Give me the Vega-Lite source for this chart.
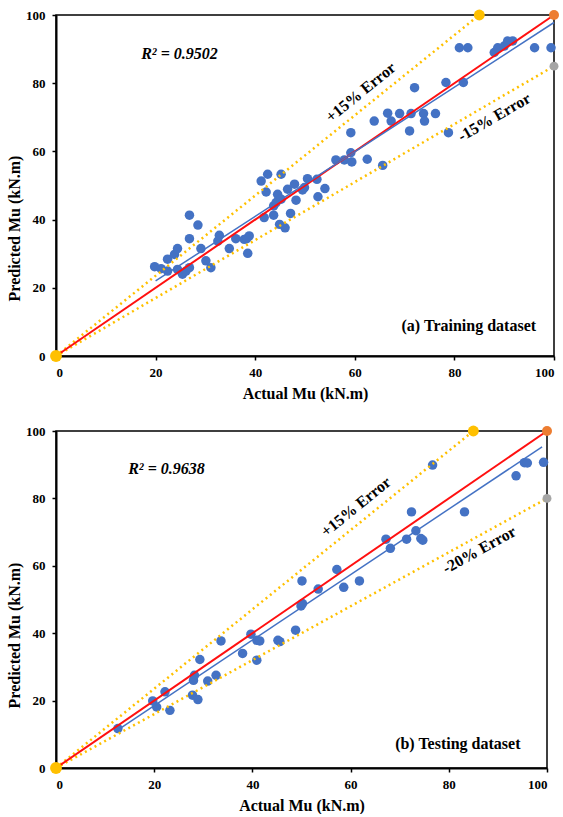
{
  "$schema": "https://vega.github.io/schema/vega-lite/v6.json",
  "background": "white",
  "padding": {"left": 5, "top": 8, "right": 5, "bottom": 0},
  "spacing": 22,
  "config": {
    "font": "'Liberation Serif', 'Times New Roman', 'DejaVu Serif', serif",
    "view": {"stroke": "black", "strokeWidth": 1.5},
    "axis": {
      "grid": false, "domainColor": "black", "domainWidth": 2,
      "tickColor": "black", "tickWidth": 1.5, "tickSize": 4,
      "labelFont": "'Liberation Serif', 'Times New Roman', 'DejaVu Serif', serif", "labelFontWeight": "bold", "labelFontSize": 13, "labelColor": "black",
      "titleFont": "'Liberation Serif', 'Times New Roman', 'DejaVu Serif', serif", "titleFontWeight": "bold", "titleFontSize": 16, "titleColor": "black"
    },
    "axisX": {"labelPadding": 6, "titlePadding": 6},
    "axisY": {"labelPadding": 7, "titlePadding": 3},
    "text": {"font": "'Liberation Serif', 'Times New Roman', 'DejaVu Serif', serif", "fontWeight": "bold", "fontSize": 16, "color": "black"}
  },
  "datasets": {
    "train": [
      {"actual": 19.8, "predicted": 26.2}, {"actual": 21.1, "predicted": 25.6}, {"actual": 22.4, "predicted": 24.9},
      {"actual": 22.4, "predicted": 28.4}, {"actual": 23.8, "predicted": 29.8}, {"actual": 24.4, "predicted": 31.5},
      {"actual": 24.4, "predicted": 25.4}, {"actual": 25.4, "predicted": 24.0}, {"actual": 26.1, "predicted": 24.9},
      {"actual": 26.8, "predicted": 25.9}, {"actual": 26.8, "predicted": 34.4}, {"actual": 26.8, "predicted": 41.3},
      {"actual": 28.5, "predicted": 38.4}, {"actual": 29.1, "predicted": 31.5}, {"actual": 30.1, "predicted": 27.9},
      {"actual": 31.1, "predicted": 25.9}, {"actual": 32.5, "predicted": 33.7}, {"actual": 32.8, "predicted": 35.4},
      {"actual": 34.8, "predicted": 31.5}, {"actual": 36.1, "predicted": 34.4}, {"actual": 37.8, "predicted": 34.2},
      {"actual": 38.3, "predicted": 34.4}, {"actual": 38.5, "predicted": 30.1}, {"actual": 38.8, "predicted": 35.2},
      {"actual": 41.8, "predicted": 40.6}, {"actual": 41.2, "predicted": 51.3}, {"actual": 42.5, "predicted": 53.3},
      {"actual": 42.2, "predicted": 48.1}, {"actual": 43.7, "predicted": 44.0}, {"actual": 43.7, "predicted": 41.3},
      {"actual": 44.2, "predicted": 45.0}, {"actual": 44.5, "predicted": 47.4}, {"actual": 44.9, "predicted": 38.6},
      {"actual": 45.2, "predicted": 53.3}, {"actual": 45.2, "predicted": 46.0}, {"actual": 46.0, "predicted": 37.6},
      {"actual": 46.5, "predicted": 48.9}, {"actual": 47.1, "predicted": 41.8}, {"actual": 47.9, "predicted": 50.4},
      {"actual": 48.2, "predicted": 45.7}, {"actual": 49.5, "predicted": 48.7}, {"actual": 49.9, "predicted": 49.4},
      {"actual": 50.5, "predicted": 52.0}, {"actual": 52.4, "predicted": 51.8}, {"actual": 52.6, "predicted": 46.7},
      {"actual": 54.0, "predicted": 49.1}, {"actual": 56.2, "predicted": 57.5}, {"actual": 57.9, "predicted": 57.5},
      {"actual": 59.4, "predicted": 56.9}, {"actual": 59.2, "predicted": 59.6}, {"actual": 59.2, "predicted": 65.5},
      {"actual": 62.5, "predicted": 57.7}, {"actual": 65.6, "predicted": 55.9}, {"actual": 63.9, "predicted": 68.9},
      {"actual": 66.6, "predicted": 71.2}, {"actual": 67.3, "predicted": 68.9}, {"actual": 69.0, "predicted": 71.1},
      {"actual": 71.3, "predicted": 71.1}, {"actual": 73.8, "predicted": 71.1}, {"actual": 76.2, "predicted": 71.1},
      {"actual": 74.0, "predicted": 68.9}, {"actual": 71.0, "predicted": 66.0}, {"actual": 72.0, "predicted": 78.7},
      {"actual": 78.8, "predicted": 65.5}, {"actual": 78.3, "predicted": 80.2}, {"actual": 81.8, "predicted": 80.2},
      {"actual": 81.0, "predicted": 90.4}, {"actual": 82.7, "predicted": 90.4}, {"actual": 88.0, "predicted": 89.0},
      {"actual": 88.7, "predicted": 90.4}, {"actual": 90.0, "predicted": 90.9}, {"actual": 90.7, "predicted": 92.4},
      {"actual": 91.7, "predicted": 92.4}, {"actual": 96.1, "predicted": 90.4}, {"actual": 99.4, "predicted": 90.4}
    ],
    "test": [
      {"actual": 76.7, "predicted": 89.9}, {"actual": 93.7, "predicted": 86.7}, {"actual": 95.4, "predicted": 90.6},
      {"actual": 96.0, "predicted": 90.5}, {"actual": 99.3, "predicted": 90.7}, {"actual": 72.4, "predicted": 76.0},
      {"actual": 83.2, "predicted": 76.0}, {"actual": 73.3, "predicted": 70.4}, {"actual": 71.4, "predicted": 67.9},
      {"actual": 74.3, "predicted": 68.1}, {"actual": 74.7, "predicted": 67.6}, {"actual": 67.2, "predicted": 67.9},
      {"actual": 68.1, "predicted": 65.2}, {"actual": 57.2, "predicted": 58.9}, {"actual": 50.1, "predicted": 55.5},
      {"actual": 53.4, "predicted": 53.1}, {"actual": 58.6, "predicted": 53.6}, {"actual": 61.8, "predicted": 55.5},
      {"actual": 49.9, "predicted": 48.1}, {"actual": 50.2, "predicted": 48.8}, {"actual": 48.8, "predicted": 40.9},
      {"actual": 45.2, "predicted": 37.9}, {"actual": 45.6, "predicted": 37.5}, {"actual": 39.7, "predicted": 39.7},
      {"actual": 40.9, "predicted": 37.9}, {"actual": 41.5, "predicted": 37.7}, {"actual": 38.0, "predicted": 34.0},
      {"actual": 40.9, "predicted": 32.0}, {"actual": 33.6, "predicted": 37.7}, {"actual": 29.3, "predicted": 32.2},
      {"actual": 28.2, "predicted": 27.5}, {"actual": 28.0, "predicted": 26.0}, {"actual": 30.9, "predicted": 25.8},
      {"actual": 32.6, "predicted": 27.5}, {"actual": 27.8, "predicted": 21.6}, {"actual": 28.9, "predicted": 20.3},
      {"actual": 22.2, "predicted": 22.6}, {"actual": 19.7, "predicted": 19.9}, {"actual": 20.5, "predicted": 18.1},
      {"actual": 23.2, "predicted": 17.1}, {"actual": 12.6, "predicted": 11.7}
    ],
    "trainBounds": [
      {"line": "plus", "actual": 0, "predicted": 0}, {"line": "plus", "actual": 85, "predicted": 100},
      {"line": "minus", "actual": 0, "predicted": 0}, {"line": "minus", "actual": 100, "predicted": 85}
    ],
    "testBounds": [
      {"line": "plus", "actual": 0, "predicted": 0}, {"line": "plus", "actual": 85, "predicted": 100},
      {"line": "minus", "actual": 0, "predicted": 0}, {"line": "minus", "actual": 100, "predicted": 80}
    ],
    "ideal": [{"actual": 0, "predicted": 0}, {"actual": 100, "predicted": 100}],
    "trainFit": [{"actual": 20, "predicted": 22}, {"actual": 100, "predicted": 97.8}],
    "testFit": [{"actual": 13, "predicted": 11.7}, {"actual": 99, "predicted": 95.3}],
    "trainMarkers": [
      {"kind": "origin", "actual": 0, "predicted": 0}, {"kind": "upper", "actual": 85, "predicted": 100},
      {"kind": "ideal", "actual": 100, "predicted": 100}, {"kind": "lower", "actual": 100, "predicted": 85}
    ],
    "testMarkers": [
      {"kind": "origin", "actual": 0, "predicted": 0}, {"kind": "upper", "actual": 85, "predicted": 100},
      {"kind": "ideal", "actual": 100, "predicted": 100}, {"kind": "lower", "actual": 100, "predicted": 80}
    ],
    "one": [{"n": 1}]
  },
  "vconcat": [
    {
      "width": 498, "height": 341,
      "layer": [
        {"data": {"name": "train"}, "mark": {"type": "circle", "size": 90, "color": "#4472C4", "opacity": 1},
         "encoding": {
           "x": {"field": "actual", "type": "quantitative", "title": "Actual Mu (kN.m)",
                 "scale": {"domain": [0, 100], "nice": false}, "axis": {"values": [0, 20, 40, 60, 80, 100]}},
           "y": {"field": "predicted", "type": "quantitative", "title": "Predicted Mu (kN.m)",
                 "scale": {"domain": [0, 100], "nice": false}, "axis": {"values": [0, 20, 40, 60, 80, 100], "titleY": 213}}
         }},
        {"data": {"name": "trainBounds"}, "mark": {"type": "line", "color": "#FFC000", "strokeWidth": 2.5, "strokeDash": [2, 3.5]},
         "encoding": {"x": {"field": "actual", "type": "quantitative", "title": "Actual Mu (kN.m)"},
                      "y": {"field": "predicted", "type": "quantitative", "title": "Predicted Mu (kN.m)"},
                      "detail": {"field": "line"}}},
        {"data": {"name": "ideal"}, "mark": {"type": "line", "color": "#FF1010", "strokeWidth": 2},
         "encoding": {"x": {"field": "actual", "type": "quantitative", "title": "Actual Mu (kN.m)"},
                      "y": {"field": "predicted", "type": "quantitative", "title": "Predicted Mu (kN.m)"}}},
        {"data": {"name": "trainFit"}, "mark": {"type": "line", "color": "#4472C4", "strokeWidth": 1.5},
         "encoding": {"x": {"field": "actual", "type": "quantitative", "title": "Actual Mu (kN.m)"},
                      "y": {"field": "predicted", "type": "quantitative", "title": "Predicted Mu (kN.m)"}}},
        {"data": {"name": "trainMarkers"}, "mark": {"type": "circle", "opacity": 1},
         "encoding": {
           "x": {"field": "actual", "type": "quantitative", "title": "Actual Mu (kN.m)"},
           "y": {"field": "predicted", "type": "quantitative", "title": "Predicted Mu (kN.m)"},
           "color": {"field": "kind", "type": "nominal", "legend": null,
                     "scale": {"domain": ["origin", "upper", "ideal", "lower"], "range": ["#FFC000", "#FFC000", "#ED7D31", "#A5A5A5"]}},
           "size": {"field": "kind", "type": "nominal", "legend": null,
                    "scale": {"domain": ["origin", "upper", "ideal", "lower"], "range": [140, 80, 80, 80]}}
         }},
        {"data": {"name": "one"}, "mark": {"type": "text", "text": "R² = 0.9502", "fontStyle": "italic", "align": "left", "baseline": "middle"},
         "encoding": {"x": {"datum": 17.1, "type": "quantitative"}, "y": {"datum": 88.5, "type": "quantitative"}}},
        {"data": {"name": "one"}, "mark": {"type": "text", "text": "+15% Error", "angle": 321, "align": "center", "baseline": "middle"},
         "encoding": {"x": {"datum": 61.2, "type": "quantitative"}, "y": {"datum": 77.3, "type": "quantitative"}}},
        {"data": {"name": "one"}, "mark": {"type": "text", "text": "-15% Error", "angle": 330, "align": "center", "baseline": "middle"},
         "encoding": {"x": {"datum": 88, "type": "quantitative"}, "y": {"datum": 70.0, "type": "quantitative"}}},
        {"data": {"name": "one"}, "mark": {"type": "text", "text": "(a) Training dataset", "align": "right", "baseline": "middle"},
         "encoding": {"x": {"datum": 96.4, "type": "quantitative"}, "y": {"datum": 8.8, "type": "quantitative"}}}
      ]
    },
    {
      "width": 491, "height": 337,
      "layer": [
        {"data": {"name": "test"}, "mark": {"type": "circle", "size": 90, "color": "#4472C4", "opacity": 1},
         "encoding": {
           "x": {"field": "actual", "type": "quantitative", "title": "Actual Mu (kN.m)",
                 "scale": {"domain": [0, 100], "nice": false}, "axis": {"values": [0, 20, 40, 60, 80, 100]}},
           "y": {"field": "predicted", "type": "quantitative", "title": "Predicted Mu (kN.m)",
                 "scale": {"domain": [0, 100], "nice": false}, "axis": {"values": [0, 20, 40, 60, 80, 100], "titleY": 204}}
         }},
        {"data": {"name": "testBounds"}, "mark": {"type": "line", "color": "#FFC000", "strokeWidth": 2.5, "strokeDash": [2, 3.5]},
         "encoding": {"x": {"field": "actual", "type": "quantitative", "title": "Actual Mu (kN.m)"},
                      "y": {"field": "predicted", "type": "quantitative", "title": "Predicted Mu (kN.m)"},
                      "detail": {"field": "line"}}},
        {"data": {"name": "ideal"}, "mark": {"type": "line", "color": "#FF1010", "strokeWidth": 2},
         "encoding": {"x": {"field": "actual", "type": "quantitative", "title": "Actual Mu (kN.m)"},
                      "y": {"field": "predicted", "type": "quantitative", "title": "Predicted Mu (kN.m)"}}},
        {"data": {"name": "testFit"}, "mark": {"type": "line", "color": "#4472C4", "strokeWidth": 1.5},
         "encoding": {"x": {"field": "actual", "type": "quantitative", "title": "Actual Mu (kN.m)"},
                      "y": {"field": "predicted", "type": "quantitative", "title": "Predicted Mu (kN.m)"}}},
        {"data": {"name": "testMarkers"}, "mark": {"type": "circle", "opacity": 1},
         "encoding": {
           "x": {"field": "actual", "type": "quantitative", "title": "Actual Mu (kN.m)"},
           "y": {"field": "predicted", "type": "quantitative", "title": "Predicted Mu (kN.m)"},
           "color": {"field": "kind", "type": "nominal", "legend": null,
                     "scale": {"domain": ["origin", "upper", "ideal", "lower"], "range": ["#FFC000", "#FFC000", "#ED7D31", "#A5A5A5"]}},
           "size": {"field": "kind", "type": "nominal", "legend": null,
                    "scale": {"domain": ["origin", "upper", "ideal", "lower"], "range": [140, 80, 80, 80]}}
         }},
        {"data": {"name": "one"}, "mark": {"type": "text", "text": "R² = 0.9638", "fontStyle": "italic", "align": "left", "baseline": "middle"},
         "encoding": {"x": {"datum": 14.7, "type": "quantitative"}, "y": {"datum": 88.7, "type": "quantitative"}}},
        {"data": {"name": "one"}, "mark": {"type": "text", "text": "+15% Error", "angle": 321, "align": "center", "baseline": "middle"},
         "encoding": {"x": {"datum": 61.1, "type": "quantitative"}, "y": {"datum": 77.5, "type": "quantitative"}}},
        {"data": {"name": "one"}, "mark": {"type": "text", "text": "-20% Error", "angle": 331, "align": "center", "baseline": "middle"},
         "encoding": {"x": {"datum": 86.2, "type": "quantitative"}, "y": {"datum": 64.7, "type": "quantitative"}}},
        {"data": {"name": "one"}, "mark": {"type": "text", "text": "(b) Testing dataset", "align": "right", "baseline": "middle"},
         "encoding": {"x": {"datum": 94.6, "type": "quantitative"}, "y": {"datum": 7.2, "type": "quantitative"}}}
      ]
    }
  ]
}
